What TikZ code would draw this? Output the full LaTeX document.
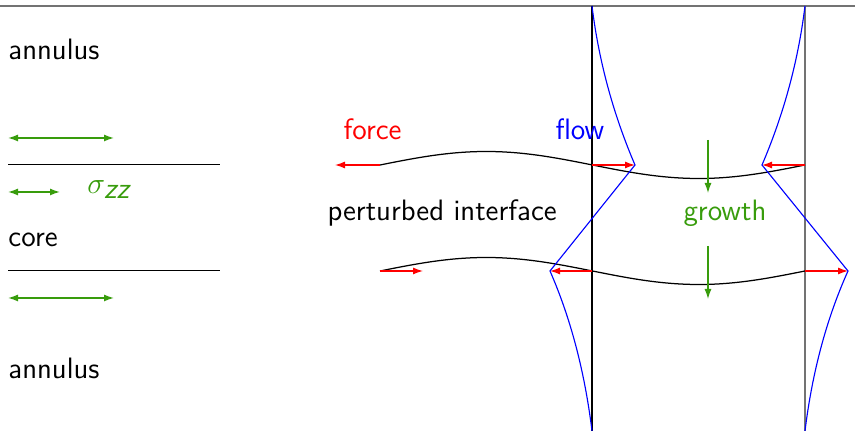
\documentclass[tikz,border=0pt]{standalone}
\usetikzlibrary{arrows.meta}
\definecolor{grn}{RGB}{56,156,12}
\begin{document}
\begin{tikzpicture}[x=0.4pt,y=-0.4pt,
  lbl/.style={anchor=base west,inner sep=0pt,font=\fontsize{11.8}{14}\selectfont\sffamily},
  garr/.style={grn,line width=0.55pt,{Latex[length=4pt,width=2.8pt]}-{Latex[length=4pt,width=2.8pt]}},
  gdown/.style={grn,line width=0.5pt,-{Latex[length=4pt,width=2.8pt]}},
  rarr/.style={red,line width=0.5pt,-{Latex[length=4pt,width=2.8pt]}},
  bl/.style={blue,line width=0.45pt},
  iface/.style={black,line width=0.5pt}]
\useasboundingbox (0,0) rectangle (855,431);
% frame lines
\draw[gray!90!black,line width=0.6pt] (0,6) -- (855,6);
\coordinate (vl1) at (592,6); \coordinate (vl2) at (592,431);
\coordinate (vr1) at (805,6); \coordinate (vr2) at (805,431);
\draw[black,line width=0.45pt] (vl1) -- (vl2);
\draw[gray!90!black,line width=0.6pt] (vr1) -- (vr2);
% left schematic
\node[lbl] (ann1) at (8,60) {annulus};
\node[lbl] (core) at (8,247) {core};
\node[lbl] (ann2) at (8,379) {annulus};
\node[lbl,text=grn] (sig) at (87,194) {$\sigma_{\textsf{\itshape zz}}$};
\coordinate (l1a) at (8,165); \coordinate (l1b) at (220,165);
\coordinate (l2a) at (8,271); \coordinate (l2b) at (220,271);
\draw (l1a) -- (l1b);
\draw (l2a) -- (l2b);
\coordinate (g1a) at (8,138); \coordinate (g1b) at (114,138);
\coordinate (g2a) at (8,192); \coordinate (g2b) at (60,192);
\coordinate (g3a) at (8,298); \coordinate (g3b) at (114,298);
\draw[garr] (g1a) -- (g1b);
\draw[garr] (g2a) -- (g2b);
\draw[garr] (g3a) -- (g3b);
% labels
\node[lbl,text=red] (force) at (343,140) {force};
\node[lbl,text=blue] (flow) at (555,140) {flow};
\node[lbl] (pert) at (327,221) {perturbed interface};
\node[lbl,text=grn] (grow) at (683,221) {growth};
% interfaces
\draw[iface] plot[domain=380:805,samples=80,smooth] (\x,{165-13.5*sin(0.84706*(\x-380))});
\draw[iface] plot[domain=380:805,samples=80,smooth] (\x,{271-13.5*sin(0.84706*(\x-380))});
% red force arrows
\coordinate (a1) at (380,165); \coordinate (a1e) at (335,165);
\coordinate (a2) at (380,271); \coordinate (a2e) at (423,271);
\coordinate (a3) at (592,165); \coordinate (a3e) at (635,165);
\coordinate (a4) at (805,165); \coordinate (a4e) at (762,165);
\coordinate (a5) at (592,271); \coordinate (a5e) at (550,271);
\coordinate (a6) at (805,271); \coordinate (a6e) at (848,271);
\draw[rarr] (a1) -- (a1e);
\draw[rarr] (a2) -- (a2e);
\draw[rarr] (a3) -- (a3e);
\draw[rarr] (a4) -- (a4e);
\draw[rarr] (a5) -- (a5e);
\draw[rarr] (a6) -- (a6e);
% growth arrows
\coordinate (d1) at (708,140); \coordinate (d1e) at (708,193);
\coordinate (d2) at (708,246); \coordinate (d2e) at (708,299);
\draw[gdown] (d1) -- (d1e);
\draw[gdown] (d2) -- (d2e);
% flow lines
\draw[bl] (vl1) .. controls (599.3,65.3) and (615,118.3) .. (a3e) -- (a5e)
  .. controls (570.7,318.3) and (584.7,371.7) .. (vl2);
\draw[bl] (vr1) .. controls (797.7,65.3) and (782,118.3) .. (a4e) -- (a6e)
  .. controls (826.7,318.3) and (812.3,371.7) .. (vr2);
\end{tikzpicture}
\end{document}
